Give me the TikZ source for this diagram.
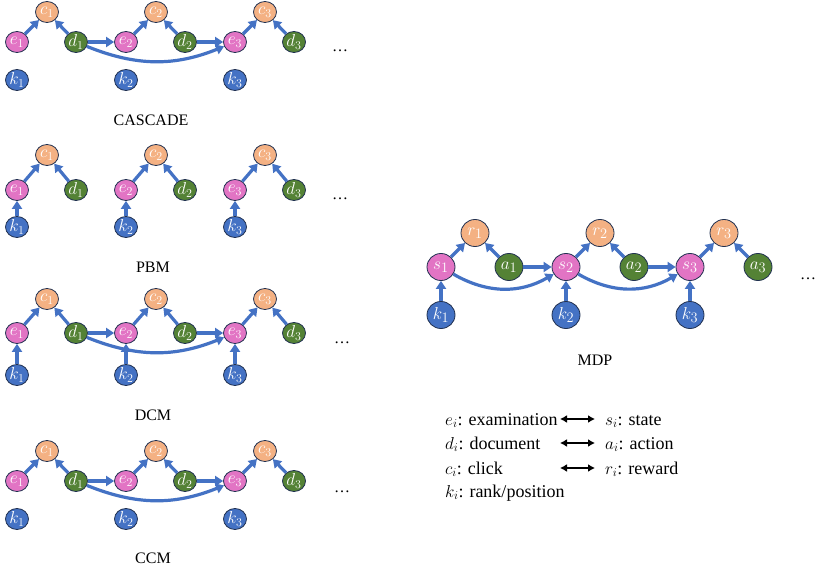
\documentclass[tikz,border=0pt]{standalone}
\usepackage{fontspec}
\setmainfont{Liberation Serif}
\newfontfamily\timesx{Liberation Serif}
\usetikzlibrary{shapes.geometric,arrows.meta}
\definecolor{pinkc}{RGB}{226,116,196}
\definecolor{orangec}{RGB}{244,177,131}
\definecolor{greenc}{RGB}{84,130,53}
\definecolor{bluec}{RGB}{68,114,196}
\definecolor{edgec}{RGB}{32,48,80}
\definecolor{arrc}{RGB}{68,114,196}
\tikzset{
  nd/.style={ellipse, draw=edgec, line width=0.8pt, minimum width=23pt, minimum height=21pt,
    inner sep=0pt, text=white, font=\fontsize{17}{17}\selectfont},
  bignd/.style={minimum width=28pt, minimum height=27pt, font=\fontsize{19}{19}\selectfont},
  en/.style={nd, fill=pinkc},
  cn/.style={nd, fill=orangec},
  dn/.style={nd, fill=greenc},
  kn/.style={nd, fill=bluec},
  arr/.style={draw=arrc, line width=3.2pt, -{Triangle[length=8pt,width=10pt]}},
  captext/.style={font=\timesx\fontsize{16}{16}\selectfont, inner sep=0pt},
  dotsnode/.style={font=\timesx\fontsize{16}{16}\selectfont, inner sep=0pt},
  legtext/.style={font=\timesx\fontsize{18}{18}\selectfont, inner sep=0pt},
  legarr/.style={draw=black, line width=1.8pt, {Latex[length=7pt,width=8pt]}-{Latex[length=7pt,width=8pt]}}
}
\newcommand\mkrow[4]{%
  \foreach \i/\x in {1/17,2/126,3/235} {
    \node[en] (#1e\i) at (\x,-#3) {$e_{\i}$};
    \node[cn] (#1c\i) at (\x+30,-#2) {$c_{\i}$};
    \node[dn] (#1d\i) at (\x+59,-#3) {$d_{\i}$};
    \node[kn] (#1k\i) at (\x,-#4) {$k_{\i}$};
    \draw[arr] (#1e\i) -- (#1c\i);
    \draw[arr] (#1d\i) -- (#1c\i);
  }}
\newcommand\cascadelinks[1]{%
  \draw[arr] (#1d1) -- (#1e2);
  \draw[arr] (#1d2) -- (#1e3);
  \draw[arr] (#1d1) to[bend right=22] (#1e3);}
\newcommand\ranklinks[1]{%
  \foreach \i in {1,2,3} {\draw[arr] (#1k\i) -- (#1e\i);}}
\begin{document}
\begin{tikzpicture}[x=1pt,y=1pt]
\useasboundingbox (0,0) rectangle (830,-577);
% CASCADE
\mkrow{A}{12}{42}{80}
\cascadelinks{A}
\node[captext] (capA) at (151,-120) {CASCADE};
\node[dotsnode] (dotA) at (340,-51) {\dots};
% PBM
\mkrow{B}{155}{190}{227}
\ranklinks{B}
\node[captext] (capB) at (153,-267) {PBM};
\node[dotsnode] (dotB) at (340,-199) {\dots};
% DCM
\mkrow{C}{299}{333}{375}
\cascadelinks{C}
\ranklinks{C}
\node[captext] (capC) at (153,-415) {DCM};
\node[dotsnode] (dotC) at (342,-343) {\dots};
% CCM
\mkrow{D}{451}{481}{519}
\cascadelinks{D}
\node[captext] (capD) at (153,-558) {CCM};
\node[dotsnode] (dotD) at (342,-492) {\dots};
% MDP
\foreach \i/\x in {1/441,2/566,3/690} {
  \node[en,bignd] (s\i) at (\x,-267) {$s_{\i}$};
  \node[cn,bignd] (r\i) at (\x+34,-233) {$r_{\i}$};
  \node[dn,bignd] (a\i) at (\x+68,-267) {$a_{\i}$};
  \node[kn,bignd] (mk\i) at (\x,-315) {$k_{\i}$};
  \draw[arr] (s\i) -- (r\i);
  \draw[arr] (a\i) -- (r\i);
  \draw[arr] (mk\i) -- (s\i);
}
\draw[arr] (a1) -- (s2);
\draw[arr] (a2) -- (s3);
\draw[arr] (s1) to[bend right=30] (s2);
\draw[arr] (s2) to[bend right=30] (s3);
\node[captext] (capM) at (595,-360) {MDP};
\node[dotsnode] (dotM) at (808,-279) {\dots};
% legend
\node[legtext, anchor=base west] (l1) at (445,-425) {$e_i$: examination};
\node[legtext, anchor=base west] (l2) at (445,-449) {$d_i$: document};
\node[legtext, anchor=base west] (l3) at (445,-474) {$c_i$: click};
\node[legtext, anchor=base west] (l4) at (445,-497) {$k_i$: rank/position};
\node[legtext, anchor=base west] (m1) at (605,-425) {$s_i$: state};
\node[legtext, anchor=base west] (m2) at (605,-449) {$a_i$: action};
\node[legtext, anchor=base west] (m3) at (605,-474) {$r_i$: reward};
\coordinate (la1) at (560,-419); \coordinate (lb1) at (595,-419);
\coordinate (la2) at (560,-443); \coordinate (lb2) at (595,-443);
\coordinate (la3) at (560,-468); \coordinate (lb3) at (595,-468);
\draw[legarr] (la1) -- (lb1);
\draw[legarr] (la2) -- (lb2);
\draw[legarr] (la3) -- (lb3);
\end{tikzpicture}
\end{document}
